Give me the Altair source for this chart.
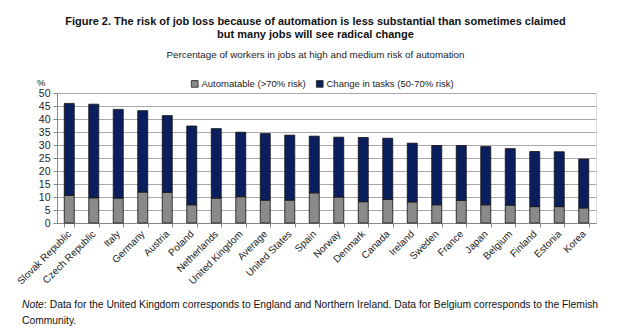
import altair as alt
import pandas as pd

countries = ["Slovak Republic", "Czech Republic", "Italy", "Germany", "Austria", "Poland",
             "Netherlands", "United Kingdom", "Average", "United States", "Spain", "Norway",
             "Denmark", "Canada", "Ireland", "Sweden", "France", "Japan", "Belgium",
             "Finland", "Estonia", "Korea"]
automatable = [10.7, 9.7, 9.6, 11.9, 11.8, 7.0, 9.6, 10.1, 8.8, 8.8, 11.6, 10.0,
               8.2, 9.1, 8.1, 7.0, 8.7, 7.0, 6.9, 6.3, 6.3, 5.8]
total = [46.0, 45.7, 43.7, 43.2, 41.3, 37.3, 36.3, 34.9, 34.4, 33.8, 33.4, 33.0,
         32.9, 32.6, 30.7, 29.8, 29.8, 29.4, 28.6, 27.5, 27.4, 24.6]
change = [round(t - a, 1) for t, a in zip(total, automatable)]
series = ["Automatable (>70% risk)", "Change in tasks (50-70% risk)"]
colors = ["#8a8a8a", "#0b1f5e"]

rows = []
for i, c in enumerate(countries):
    rows.append({"country": c, "series": series[0], "value": automatable[i], "order": 0})
    rows.append({"country": c, "series": series[1], "value": change[i], "order": 1})
df = pd.DataFrame(rows)

FONT = "Liberation Sans"
W, H = 539, 130

bars = alt.Chart(df).mark_bar(stroke="#111111", strokeWidth=0.8, width=10).encode(
    x=alt.X("country:N", sort=countries, title=None,
            scale=alt.Scale(paddingInner=0.58, paddingOuter=0.29),
            axis=alt.Axis(labelAngle=-45, labelAlign="right", labelBaseline="middle",
                          labelFont=FONT, labelFontSize=10, labelColor="#222222",
                          tickBand="extent", labelPadding=5,
                          domainColor="#888888", tickColor="#888888", tickSize=4,
                          labelOverlap=False, grid=False)),
    y=alt.Y("value:Q", stack="zero", title=None,
            scale=alt.Scale(domain=[0, 50]),
            axis=alt.Axis(values=list(range(0, 51, 5)), labelFont=FONT, labelFontSize=10.5,
                          labelColor="#222222", domainColor="#888888", tickColor="#888888",
                          tickSize=4, gridColor="#a8a8a8", gridWidth=1, labelPadding=3)),
    color=alt.Color("series:N", sort=series,
                    scale=alt.Scale(domain=series, range=colors),
                    legend=alt.Legend(orient="none", legendX=133, legendY=-14,
                                      direction="horizontal", title=None,
                                      symbolType="square", symbolSize=45,
                                      symbolStrokeColor="#222222", symbolStrokeWidth=0.8,
                                      labelFont=FONT, labelFontSize=9.5, labelColor="#222222",
                                      columnPadding=8, symbolOffset=0, labelOffset=2)),
    order=alt.Order("order:Q"),
)

pct = alt.Chart(pd.DataFrame({"t": ["%"]})).mark_text(
    font=FONT, fontSize=9.5, color="#222222", align="left", baseline="middle"
).encode(text="t:N", x=alt.value(-20), y=alt.value(-10))

note1 = alt.Chart(pd.DataFrame({"t": ["Note"]})).mark_text(
    font=FONT, fontSize=10.3, fontStyle="italic", color="#111111", align="left", baseline="middle"
).encode(text="t:N", x=alt.value(-35), y=alt.value(212))
note2 = alt.Chart(pd.DataFrame({"t": [": Data for the United Kingdom corresponds to England and Northern Ireland. Data for Belgium corresponds to the Flemish"]})).mark_text(
    font=FONT, fontSize=10.3, color="#111111", align="left", baseline="middle"
).encode(text="t:N", x=alt.value(-13), y=alt.value(212))
note3 = alt.Chart(pd.DataFrame({"t": ["Community."]})).mark_text(
    font=FONT, fontSize=10.3, color="#111111", align="left", baseline="middle"
).encode(text="t:N", x=alt.value(-35), y=alt.value(228))

chart = alt.layer(bars, pct, note1, note2, note3).properties(
    width=W, height=H,
    autosize=alt.AutoSizeParams(type="none"),
    padding={"left": 57, "top": 93, "right": 34, "bottom": 109},
    title=alt.TitleParams(
        text=["Figure 2. The risk of job loss because of automation is less substantial than sometimes claimed",
              "but many jobs will see radical change"],
        subtitle="Percentage of workers in jobs at high and medium risk of automation",
        font=FONT, fontSize=11, fontWeight="bold", color="#111111", lineHeight=13,
        subtitleFont=FONT, subtitleFontSize=9.8, subtitleColor="#222222", subtitlePadding=10,
        anchor="middle", dx=-11, offset=18, frame="group"),
).configure_view(stroke=None).configure(background="white")

chart.save("out.html", embed_options={"renderer": "svg", "actions": False})
